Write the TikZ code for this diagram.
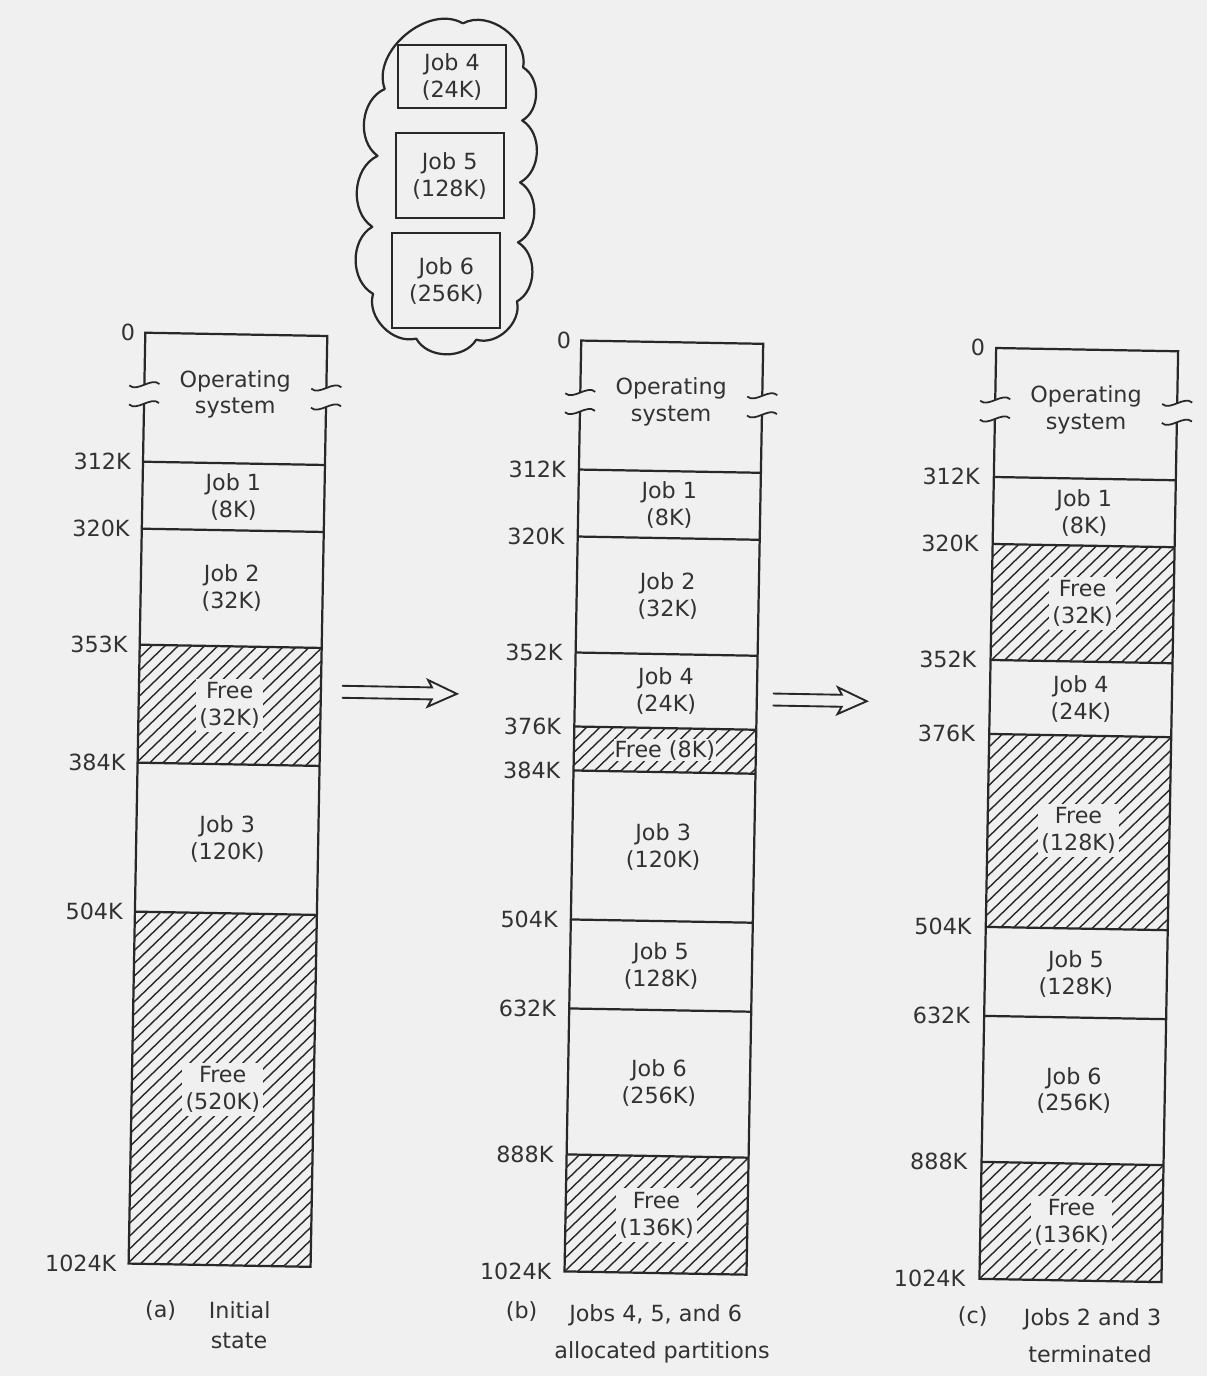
\documentclass[tikz,border=0pt]{standalone}
\usepackage{fontspec}
\setmainfont{DejaVu Sans}
\definecolor{bg}{RGB}{240,240,240}
\definecolor{ink}{RGB}{40,40,40}
\definecolor{txt}{RGB}{50,50,50}
\tikzset{
  frame/.style={draw=ink, line width=1.9pt},
  breakline/.style={draw=ink, line width=1.5pt},
  hatchline/.style={draw=ink, line width=1.2pt},
  addr/.style={anchor=east, text=txt, font=\fontsize{19}{23}\selectfont, inner sep=0pt},
  partlbl/.style={align=center, text=txt, font=\fontsize{19}{23}\selectfont, inner sep=1pt},
  freelbl/.style={partlbl, fill=bg, inner sep=3pt},
  jobbox/.style={draw=ink, line width=1.9pt, align=center, text=txt, font=\fontsize{19}{23}\selectfont, minimum width=3.24cm, fill=bg},
  captext/.style={anchor=base, text=txt, font=\fontsize{19}{23}\selectfont, inner sep=0pt},
  cloudline/.style={draw=ink, line width=1.9pt, line join=round},
  movearrow/.style={draw=ink, line width=1.6pt, line join=miter},
}
\newcommand\hatchrect[4]{%
  \begin{scope}
    \clip (#1,#2) rectangle (#3,#4);
    \pgfmathsetmacro\hh{#4-#2}%
    \pgfmathsetmacro\hs{#1-\hh}%
    \pgfmathsetmacro\hn{\hs+13}%
    \foreach \xx in {\hs,\hn,...,#3} {\draw[hatchline] (\xx,#4) -- ++(\hh,-\hh);}
  \end{scope}}
\newcommand\brkmark[3]{%
  \draw[breakline] (#1-15,#2+1) .. controls (#1-7,#2+8) and (#1+7,#2-8) .. (#1+15,#2-1);
  \draw[breakline] (#1-15,#3+1) .. controls (#1-7,#3+8) and (#1+7,#3-8) .. (#1+15,#3-1);}
\newcommand\colframe[2]{%
  \draw[frame] (#1,393) -- (#1,341) -- (#2,341) -- (#2,393);
  \draw[frame] (#1,412) -- (#1,1272) -- (#2,1272) -- (#2,412);
  \brkmark{#1}{393}{412}\brkmark{#2}{393}{412}}
% open double-shafted arrow from #1 to #2 (named coordinates)
\newcommand\fatarrow[2]{%
  \draw[movearrow] ([yshift=0.18cm]#1) -- ([xshift=-0.75cm,yshift=0.18cm]#2)
    -- ([xshift=-0.87cm,yshift=0.40cm]#2) -- (#2)
    -- ([xshift=-0.87cm,yshift=-0.40cm]#2) -- ([xshift=-0.75cm,yshift=-0.18cm]#2)
    -- ([yshift=-0.18cm]#1);}
\begin{document}
\begin{tikzpicture}[x=0.03cm,y=-0.03cm]
\useasboundingbox (0,0) rectangle (1207,1376);
\fill[bg] (0,0) rectangle (1207,1376);
\begin{scope}[rotate around={-1.03:(603,688)}]
% ---------- cloud of waiting jobs
\draw[cloudline] (451,26) to[bend left=65] (512,69) to[bend left=60] (512,122)
  to[bend left=60] (511,184) to[bend left=60] (510,244) to[bend left=60] (510,303)
  to[bend left=60] (470,342) to[bend left=60] (410,342) to[bend left=60] (366,298)
  to[bend left=60] (364,231) to[bend left=60] (368,160) to[bend left=60] (374,93)
  to[bend left=70] (451,26);
\node[jobbox, minimum height=1.89cm] (k4) at (441,79.5) {Job 4\\(24K)};
\node[jobbox, minimum height=2.55cm] (k5) at (440.5,178.5) {Job 5\\(128K)};
\node[jobbox, minimum height=2.85cm] (k6) at (439,283.5) {Job 6\\(256K)};
% ---------- column (a)
\hatchrect{139}{653}{321}{771}
\hatchrect{139}{920}{321}{1272}
\colframe{139}{321}
\foreach \yy in {470,537,653,771,920} {\draw[frame] (139,\yy) -- (321,\yy);}
\node[partlbl] (aOS) at (230,401) {Operating\\system};
\node[partlbl] (aJ1) at (230,504) {Job 1\\(8K)};
\node[partlbl] (aJ2) at (230,595) {Job 2\\(32K)};
\node[freelbl] (aF1) at (230,712) {Free\\(32K)};
\node[partlbl] (aJ3) at (230,846) {Job 3\\(120K)};
\node[freelbl] (aF2) at (230,1096) {Free\\(520K)};
\node[addr] (aL0) at (129,341) {0};
\node[addr] (aL1) at (127,470) {312K};
\node[addr] (aL2) at (127,537) {320K};
\node[addr] (aL3) at (127,653) {353K};
\node[addr] (aL4) at (127,771) {384K};
\node[addr] (aL5) at (127,920) {504K};
\node[addr] (aL6) at (127,1272) {1024K};
% ---------- column (b)
\hatchrect{575}{727}{757}{771}
\hatchrect{575}{1155}{757}{1272}
\colframe{575}{757}
\foreach \yy in {470,537,653,727,771,920,1009,1155} {\draw[frame] (575,\yy) -- (757,\yy);}
\node[partlbl] (bOS) at (666,401) {Operating\\system};
\node[partlbl] (bJ1) at (666,504) {Job 1\\(8K)};
\node[partlbl] (bJ2) at (666,595) {Job 2\\(32K)};
\node[partlbl] (bJ4) at (666,690) {Job 4\\(24K)};
\node[freelbl, inner sep=1pt] (bF1) at (666,749) {Free (8K)};
\node[partlbl] (bJ3) at (666,846) {Job 3\\(120K)};
\node[partlbl] (bJ5) at (666,965) {Job 5\\(128K)};
\node[partlbl] (bJ6) at (666,1082) {Job 6\\(256K)};
\node[freelbl] (bF2) at (666,1214) {Free\\(136K)};
\node[addr] (bL0) at (565,341) {0};
\node[addr] (bL1) at (562,470) {312K};
\node[addr] (bL2) at (562,537) {320K};
\node[addr] (bL3) at (562,653) {352K};
\node[addr] (bL4) at (562,727) {376K};
\node[addr] (bL5) at (562,771) {384K};
\node[addr] (bL6) at (562,920) {504K};
\node[addr] (bL7) at (562,1009) {632K};
\node[addr] (bL8) at (562,1155) {888K};
\node[addr] (bL9) at (562,1272) {1024K};
% ---------- column (c)
\hatchrect{990}{537}{1172}{653}
\hatchrect{990}{727}{1172}{920}
\hatchrect{990}{1155}{1172}{1272}
\colframe{990}{1172}
\foreach \yy in {470,537,653,727,920,1009,1155} {\draw[frame] (990,\yy) -- (1172,\yy);}
\node[partlbl] (cOS) at (1081,401) {Operating\\system};
\node[partlbl] (cJ1) at (1081,504) {Job 1\\(8K)};
\node[freelbl] (cF1) at (1081,595) {Free\\(32K)};
\node[partlbl] (cJ4) at (1081,690) {Job 4\\(24K)};
\node[freelbl] (cF2) at (1081,822) {Free\\(128K)};
\node[partlbl] (cJ5) at (1081,965) {Job 5\\(128K)};
\node[partlbl] (cJ6) at (1081,1082) {Job 6\\(256K)};
\node[freelbl] (cF3) at (1081,1214) {Free\\(136K)};
\node[addr] (cL0) at (979,341) {0};
\node[addr] (cL1) at (976,470) {312K};
\node[addr] (cL2) at (976,537) {320K};
\node[addr] (cL3) at (976,653) {352K};
\node[addr] (cL4) at (976,727) {376K};
\node[addr] (cL5) at (976,920) {504K};
\node[addr] (cL6) at (976,1009) {632K};
\node[addr] (cL7) at (976,1155) {888K};
\node[addr] (cL8) at (976,1272) {1024K};
% ---------- transition arrows
\coordinate (abS) at (342,696.5);
\coordinate (abE) at (457,696.5);
\coordinate (bcS) at (773,696.5);
\coordinate (bcE) at (867,696.5);
\fatarrow{abS}{abE}
\fatarrow{bcS}{bcE}
% ---------- captions
\node[captext] (capa1) at (172,1325) {(a)};
\node[captext] (capa2) at (251,1325) {Initial};
\node[captext] (capa3) at (251,1355) {state};
\node[captext] (capb1) at (533,1320) {(b)};
\node[captext] (capb2) at (667,1320) {Jobs 4, 5, and 6};
\node[captext] (capb3) at (674,1357) {allocated partitions};
\node[captext] (capc1) at (984,1317) {(c)};
\node[captext] (capc2) at (1104,1317) {Jobs 2 and 3};
\node[captext] (capc3) at (1102,1354) {terminated};
\end{scope}
\end{tikzpicture}
\end{document}
